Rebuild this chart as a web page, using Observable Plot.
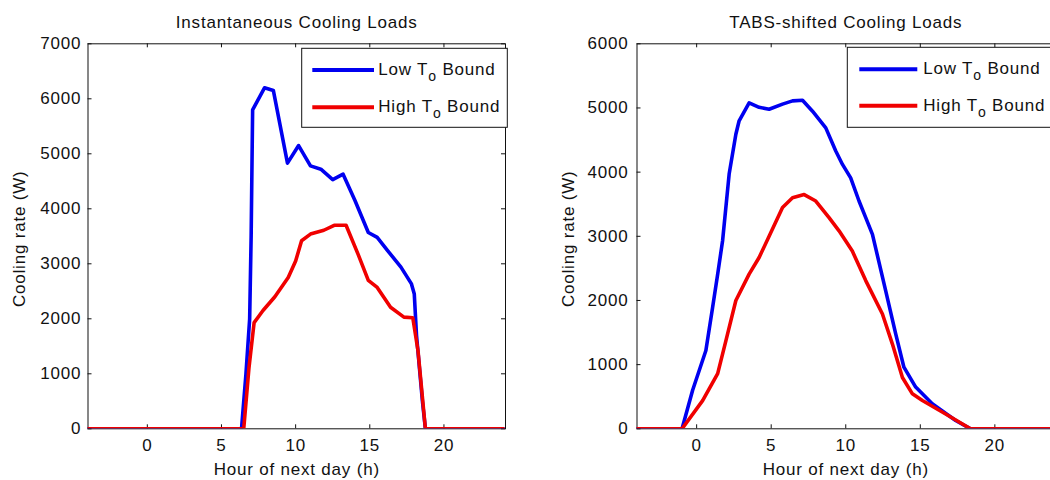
<!DOCTYPE html>
<html><head><meta charset="utf-8">
<script src="https://cdn.jsdelivr.net/npm/d3@7"></script>
<script src="https://cdn.jsdelivr.net/npm/@observablehq/plot@0.6"></script>
<style>
html,body{margin:0;padding:0;background:#fff;}
#wrap{position:relative;width:1050px;height:480px;overflow:hidden;background:#fff;}
#wrap svg{position:absolute;top:0;}
</style></head><body><div id="wrap"></div>
<script>
// ---- data ----
const xTicks = [0, 5, 10, 15, 20];
const leftYTicks = [0, 1000, 2000, 3000, 4000, 5000, 6000, 7000];
const rightYTicks = [0, 1000, 2000, 3000, 4000, 5000, 6000];
const seriesNames = ["Low T", "High T"];
const xLabel = "Hour of next day (h)";
const yLabel = "Cooling rate (W)";
const titles = ["Instantaneous Cooling Loads", "TABS-shifted Cooling Loads"];

// Instantaneous, Low T_o bound
const instLowHours = [-4, 6.35, 6.65, 6.9, 7.0, 7.1, 7.9, 8.5, 9.45, 10.2, 11.0, 11.7, 12.5, 13.2, 14.0, 14.9, 15.5, 16.2, 17.1, 17.8, 18.0, 18.15, 18.55, 18.75, 24];
const instLowW = [0, 0, 1000, 2000, 3500, 5800, 6200, 6150, 4830, 5150, 4780, 4720, 4530, 4630, 4150, 3570, 3480, 3240, 2940, 2640, 2450, 1700, 500, 0, 0];
// Instantaneous, High T_o bound
const instHighHours = [-4, 6.5, 6.85, 7.2, 7.8, 8.6, 9.5, 10.0, 10.4, 11.0, 11.9, 12.6, 13.4, 14.2, 14.9, 15.5, 16.4, 17.3, 17.9, 18.25, 18.75, 24];
const instHighW = [0, 0, 1100, 1930, 2150, 2400, 2750, 3050, 3420, 3540, 3610, 3700, 3700, 3180, 2700, 2570, 2210, 2030, 2020, 1420, 0, 0];
// TABS-shifted, Low T_o bound
const tabsLowHours = [-4, -0.98, -0.27, 0.62, 1.07, 1.41, 1.74, 2.18, 2.63, 2.85, 3.52, 4.19, 4.86, 5.76, 6.43, 7.1, 7.77, 8.66, 9.33, 9.78, 10.33, 10.89, 11.34, 11.79, 12.68, 13.35, 13.9, 14.69, 15.8, 17.37, 18.37, 24];
const tabsLowW = [0, 0, 600, 1220, 1890, 2410, 2930, 3970, 4590, 4800, 5080, 5010, 4980, 5060, 5110, 5120, 4950, 4690, 4330, 4120, 3910, 3550, 3290, 3030, 2150, 1480, 960, 650, 390, 130, 0, 0];
// TABS-shifted, High T_o bound
const tabsHighHours = [-4, -0.98, 0.4, 1.41, 1.96, 2.63, 3.52, 4.19, 4.86, 5.76, 6.43, 7.21, 7.99, 8.88, 9.55, 9.99, 10.44, 11.34, 12.46, 13.13, 13.8, 14.47, 15.14, 16.7, 18.37, 24];
const tabsHighW = [0, 0, 440, 860, 1370, 2000, 2410, 2670, 3000, 3450, 3600, 3650, 3550, 3290, 3085, 2930, 2770, 2310, 1790, 1320, 800, 545, 440, 230, 0, 0];

const BLUE = "#0000f0", RED = "#f00000";
const FONT = "font-family:'Liberation Sans',Arial,sans-serif;font-size:17px;letter-spacing:0.8px;color:#111;background:white;";

function zip(h, w) { return h.map((v, i) => ({h: v, w: w[i]})); }

function panel(o) {
  const H = 480, mt = 43.3, mb = 51.7;
  const frameH = H - mt - mb;
  const frameW = o.width - o.marginLeft - o.marginRight;
  const tk = 4;
  const svg = Plot.plot({
    width: o.width, height: H,
    marginLeft: o.marginLeft, marginRight: o.marginRight, marginTop: mt, marginBottom: mb,
    style: FONT,
    x: {domain: o.xDomain, ticks: xTicks, tickSize: 0, tickPadding: 10, tickFormat: d => String(d), label: null},
    y: {domain: [0, o.yTicks[o.yTicks.length - 1]], ticks: o.yTicks, tickSize: 0, tickPadding: o.yPad, tickFormat: d => String(d), label: null},
    marks: [
      Plot.frame({stroke: "#111"}),
      Plot.tickX(xTicks, {x: d => d, insetTop: frameH - tk, stroke: "#111"}),
      Plot.tickX(xTicks, {x: d => d, insetBottom: frameH - tk, stroke: "#111"}),
      Plot.tickY(o.yTicks, {y: d => d, insetRight: frameW - tk, stroke: "#111"}),
      Plot.tickY(o.yTicks, {y: d => d, insetLeft: frameW - tk, stroke: "#111"}),
      Plot.line(o.low, {x: "h", y: "w", stroke: BLUE, strokeWidth: 3.6, clip: true}),
      Plot.line(o.high, {x: "h", y: "w", stroke: RED, strokeWidth: 3.6, clip: true}),
      Plot.text([o.title], {text: d => d, frameAnchor: "top", lineAnchor: "middle", dy: -21, fill: "#111"}),
      Plot.text([xLabel], {text: d => d, frameAnchor: "bottom", lineAnchor: "middle", dy: 41, fill: "#111"})
    ]
  });
  const root = d3.select(svg);
  // rotated y-axis label
  root.append("text")
    .attr("transform", `translate(${o.marginLeft - 67.5},${(mt + H - mb) / 2 + 3}) rotate(-90)`)
    .attr("text-anchor", "middle").attr("dy", "0.32em").attr("fill", "#111")
    .text(yLabel);
  // legend box
  const g = root.append("g").attr("text-anchor", "start");
  const L = o.legend;
  g.append("rect").attr("x", L.x).attr("y", L.y).attr("width", L.w).attr("height", L.h)
    .attr("fill", "white").attr("stroke", "#111").attr("stroke-width", 1);
  [[BLUE, L.y1, seriesNames[0]], [RED, L.y2, seriesNames[1]]].forEach(([c, yy, name]) => {
    g.append("line").attr("x1", L.lx1).attr("x2", L.lx2).attr("y1", yy).attr("y2", yy)
      .attr("stroke", c).attr("stroke-width", 4);
    const t = g.append("text").attr("x", L.tx).attr("y", yy + 4.8).attr("fill", "#111");
    t.append("tspan").text(name);
    t.append("tspan").attr("dy", 6).attr("font-size", 14).text("o");
    t.append("tspan").attr("dy", -6).text(" Bound");
  });
  svg.style.left = o.left + "px";
  return svg;
}

const wrap = document.getElementById("wrap");
wrap.appendChild(panel({
  left: 0, width: 525, marginLeft: 87.5, marginRight: 20, xDomain: [-4, 24.15],
  yTicks: leftYTicks, yPad: 6.8, title: titles[0],
  low: zip(instLowHours, instLowW), high: zip(instHighHours, instHighW),
  legend: {x: 301.7, y: 48.3, w: 205.6, h: 79, y1: 70, y2: 107.3, lx1: 312.3, lx2: 374, tx: 378.3}
}));
wrap.appendChild(panel({
  left: 525, width: 550, marginLeft: 111.5, marginRight: 21, xDomain: [-4, 24],
  yTicks: rightYTicks, yPad: 8.4, title: titles[1],
  low: zip(tabsLowHours, tabsLowW), high: zip(tabsHighHours, tabsHighW),
  legend: {x: 322.3, y: 47.3, w: 220, h: 80, y1: 69.3, y2: 105.7, lx1: 334.3, lx2: 392.3, tx: 398.3}
}));
</script></body></html>
